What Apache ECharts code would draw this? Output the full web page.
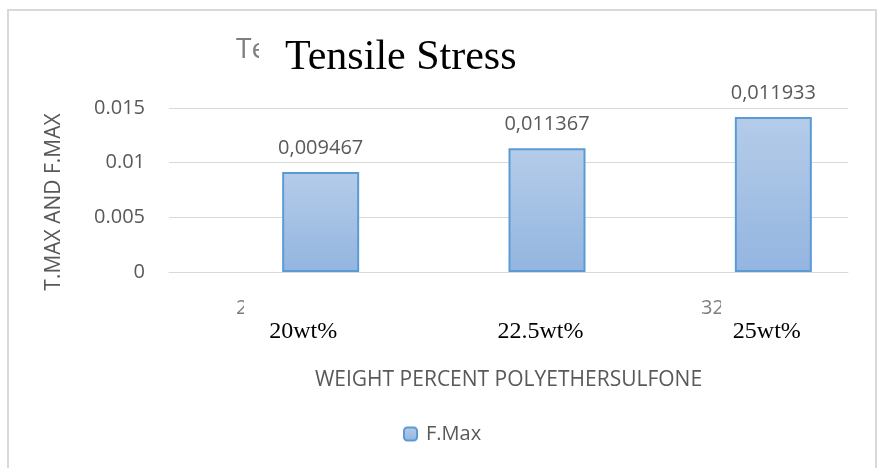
<!DOCTYPE html>
<html>
<head>
<meta charset="utf-8">
<script src="https://cdn.jsdelivr.net/npm/echarts@6/dist/echarts.min.js"></script>
<style>
  html, body { margin: 0; padding: 0; background: #fff; }
  #chart { width: 880px; height: 468px; }
</style>
</head>
<body>
<div id="chart"></div>
<script>
// chart data
const categories = ['20wt%', '22.5wt%', '25wt%']
const fMax = [0.00914, 0.01133, 0.01417]
const fMaxLabels = ['0,009467', '0,011367', '0,011933']
const tMax = ['-', '-', '-']
const yTicks = [0, 0.005, 0.01, 0.015]

const sans = '"Open Sans", sans-serif'
const serif = '"Liberation Serif", "Times New Roman", serif'
const grey = '#595959'

const barFill = new echarts.graphic.LinearGradient(0, 0, 0, 1, [
  { offset: 0, color: '#b5cce9' },
  { offset: 1, color: '#93b5e0' }
])

const chart = echarts.init(document.getElementById('chart'))
chart.setOption({
  animation: false,
  title: {
    text: 'Tensile Stress',
    left: 280,
    top: 32,
    z: 10,
    textStyle: { fontFamily: serif, fontSize: 42, fontWeight: 'normal', color: '#000' }
  },
  legend: {
    data: ['F.Max'],
    left: 398,
    top: 419,
    itemWidth: 13,
    itemHeight: 13,
    textStyle: { fontFamily: sans, fontSize: 20, color: grey, padding: [0, 0, 0, 4] }
  },
  grid: { left: 169, right: 32, top: 108, bottom: 196 },
  xAxis: {
    type: 'category',
    data: categories,
    name: 'WEIGHT PERCENT POLYETHERSULFONE',
    nameLocation: 'middle',
    nameGap: 98,
    nameTextStyle: { fontFamily: sans, fontSize: 21, color: grey },
    axisLine: { lineStyle: { color: '#d9d9d9', width: 1 } },
    axisTick: { show: false },
    z: 10,
    axisLabel: {
      margin: 48,
      interval: 0,
      formatter: (v, i) => '{c' + i + '|' + v + '}',
      rich: {
        c0: { fontFamily: serif, fontSize: 24, color: '#000', padding: [0, 0, 0, 42] },
        c1: { fontFamily: serif, fontSize: 24, color: '#000', padding: [0, 0, 0, 64] },
        c2: { fontFamily: serif, fontSize: 24, color: '#000', padding: [0, 0, 0, 64] }
      }
    }
  },
  yAxis: {
    type: 'value',
    min: yTicks[0],
    max: yTicks[yTicks.length - 1],
    interval: yTicks[1] - yTicks[0],
    name: 'T.MAX AND F.MAX',
    nameLocation: 'middle',
    nameGap: 104,
    nameTextStyle: { fontFamily: sans, fontSize: 21, color: grey, padding: [0, 24, 0, 0] },
    axisLine: { show: false },
    axisTick: { show: false },
    splitLine: { lineStyle: { color: '#d9d9d9', width: 1 } },
    axisLabel: {
      margin: 24,
      fontFamily: sans,
      fontSize: 20,
      color: grey,
      formatter: v => String(v)
    }
  },
  series: [
    {
      name: 'T.Max',
      type: 'bar',
      data: tMax,
      barWidth: 77,
      barGap: '0%'
    },
    {
      name: 'F.Max',
      type: 'bar',
      data: fMax,
      barWidth: 77,
      barGap: '0%',
      itemStyle: { color: barFill, borderColor: '#5b9bd5', borderWidth: 2 },
      label: {
        show: true,
        position: 'top',
        distance: 14,
        fontFamily: sans,
        fontSize: 20,
        color: grey,
        formatter: p => fMaxLabels[p.dataIndex]
      }
    }
  ],
  graphic: [
    {
      type: 'rect',
      z: -10,
      shape: { x: 8, y: 10, width: 868, height: 520 },
      style: { fill: 'none', stroke: '#d9d9d9', lineWidth: 2 }
    },
    // partly hidden original labels peeking out behind the pasted text
    {
      type: 'text', left: 236, top: 36, z: 1,
      style: { text: 'Tensile Stress', fontFamily: sans, fontSize: 28, fill: '#7f7f7f' }
    },
    {
      type: 'rect', z: 2,
      shape: { x: 259, y: 30, width: 270, height: 48 },
      style: { fill: '#fff' }
    },
    {
      type: 'text', left: 236, top: 298, z: 1,
      style: { text: '2', fontFamily: sans, fontSize: 20, fill: '#7f7f7f' }
    },
    {
      type: 'text', left: 701, top: 298, z: 1,
      style: { text: '32', fontFamily: sans, fontSize: 20, fill: '#7f7f7f' }
    },
    {
      type: 'rect', z: 2,
      shape: { x: 244, y: 296, width: 104, height: 20 },
      style: { fill: '#fff' }
    },
    {
      type: 'rect', z: 2,
      shape: { x: 721, y: 296, width: 104, height: 20 },
      style: { fill: '#fff' }
    }
  ]
})
</script>
</body>
</html>
